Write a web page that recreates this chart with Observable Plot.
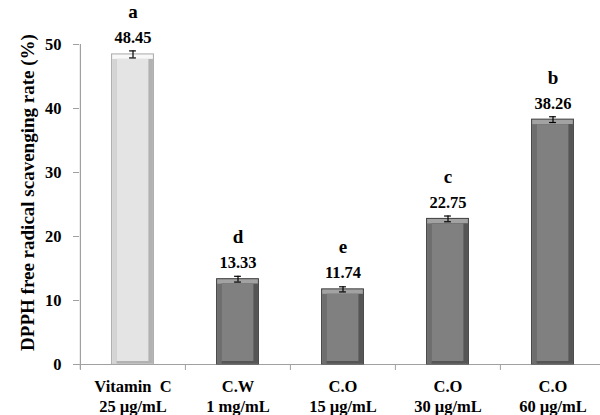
<!DOCTYPE html>
<html><head><meta charset="utf-8">
<script src="https://cdn.jsdelivr.net/npm/d3@7"></script>
<script src="https://cdn.jsdelivr.net/npm/@observablehq/plot@0.6"></script>
<style>
body{margin:0;background:#fff}
svg text{white-space:pre;font-family:"Liberation Serif","Times New Roman",Times,serif}
</style></head><body><div id="chart"></div>
<script>
const categories = ["Vitamin C 25 µg/mL", "C.W 1 mg/mL", "C.O 15 µg/mL", "C.O 30 µg/mL", "C.O 60 µg/mL"];
const labelLine1 = ["Vitamin  C", "C.W", "C.O", "C.O", "C.O"];
const labelLine2 = ["25 µg/mL", "1 mg/mL", "15 µg/mL", "30 µg/mL", "60 µg/mL"];
const values = [48.45, 13.33, 11.74, 22.75, 38.26];
const errors = [0.55, 0.45, 0.4, 0.45, 0.45];
const letters = ["a", "d", "e", "c", "b"];
const barKind = ["standard", "sample", "sample", "sample", "sample"];
const yTicks = [0, 10, 20, 30, 40, 50];
const yLabel = "DPPH free radical scavenging rate (%)";

const palette = {
  standard: {border: "#a8a8a8", top: "#f8f8f8", left: "#d4d4d4", right: "#b2b2b2", face: "#e4e4e4"},
  sample:   {border: "#3c3c3c", top: "#a2a2a2", left: "#6e6e6e", right: "#555555", face: "#808080"}
};

const data = categories.map((c, i) => ({
  cat: c, v: values[i], e: errors[i], letter: letters[i], kind: barKind[i],
  label: labelLine1[i] + "\n" + labelLine2[i]
}));

const W = 600, H = 415;
const x0 = 79, x1 = 605;
const band = (x1 - x0) / categories.length;
const barW = 42;
const side = (band - barW) / 2;
const bev = 5;
const cap = 7;
const axisGray = "#a0a0a0";
const font = "'Liberation Serif', 'Times New Roman', Times, serif";

const col = k => d => palette[d.kind][k];

const chart = Plot.plot({
  width: W, height: H,
  marginTop: 44, marginBottom: 51, marginLeft: x0, marginRight: 0,
  style: {fontFamily: font, fontWeight: "bold", fontSize: "16px", color: "black", background: "white"},
  x: {domain: categories, range: [x0, x1], padding: 0, label: null},
  y: {domain: [0, 50], label: null},
  color: {type: "identity"},
  marks: [
    Plot.ruleY([0], {stroke: axisGray, strokeWidth: 1.2}),
    Plot.ruleX([categories[0]], {x: d => d, dx: -band / 2, stroke: axisGray, strokeWidth: 1.2, insetBottom: -5}),
    Plot.axisY({ticks: yTicks, label: null, tickSize: 6, tickPadding: 12, stroke: axisGray, fill: "black", fontSize: 16.5, fontWeight: "bold", fontFamily: font}),
    Plot.axisX({tickSize: 6, label: null, text: null, dx: -band / 2, stroke: axisGray}),
    Plot.axisX({tickSize: 0, label: null, tickPadding: 13, tickFormat: (d, i) => data[i].label, fill: "black", fontSize: 16.5, fontWeight: "bold", fontFamily: font, lineHeight: 1.22}),
    Plot.barY(data, {x: "cat", y: "v", insetLeft: side, insetRight: side, fill: col("top"), stroke: col("border"), strokeWidth: 1}),
    Plot.barY(data, {x: "cat", y: "v", insetLeft: side + 0.5, insetRight: side + 0.5, insetTop: bev, insetBottom: 0.5, fill: col("left")}),
    Plot.barY(data, {x: "cat", y: "v", insetLeft: side + bev, insetRight: side + 0.5, insetTop: bev, insetBottom: 0.5, fill: col("right")}),
    Plot.barY(data, {x: "cat", y: "v", insetLeft: side + bev, insetRight: side + bev, insetTop: bev, insetBottom: 3, fill: col("face")}),
    Plot.ruleX(data, {x: "cat", y1: d => d.v - d.e, y2: d => d.v + d.e, stroke: "black", strokeWidth: 1.2}),
    Plot.tickY(data, {x: "cat", y: d => d.v + d.e, insetLeft: (band - cap) / 2, insetRight: (band - cap) / 2, stroke: "black", strokeWidth: 1.2}),
    Plot.tickY(data, {x: "cat", y: d => d.v - d.e, insetLeft: (band - cap) / 2, insetRight: (band - cap) / 2, stroke: "black", strokeWidth: 1.2}),
    Plot.text(data, {x: "cat", y: "v", text: d => d.v.toFixed(2), lineAnchor: "bottom", dy: -11, fontSize: 16.5, fontWeight: "bold", fontFamily: font, fill: "black"}),
    Plot.text(data, {x: "cat", y: "v", text: "letter", lineAnchor: "bottom", dy: -36, fontSize: 19, fontWeight: "bold", fontFamily: font, fill: "black"}),
    Plot.text([yLabel], {frameAnchor: "left", textAnchor: "middle", text: d => d, rotate: -90, dx: -52, dy: -12, fontSize: 19, fontWeight: "bold", fontFamily: font, fill: "black"})
  ]
});
document.getElementById("chart").appendChild(chart);
</script></body></html>
